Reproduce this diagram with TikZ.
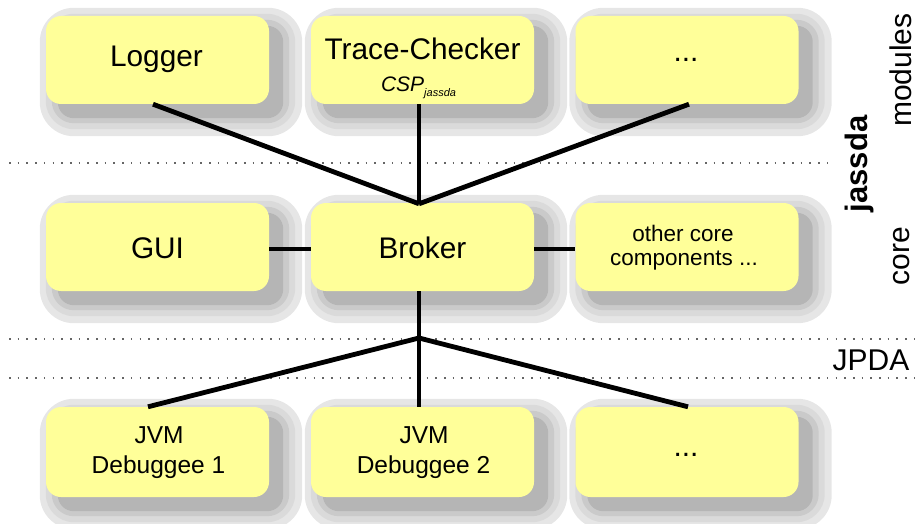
\documentclass[tikz,border=0pt]{standalone}
\usepackage{fontspec}
\setmainfont{Liberation Sans}
\usetikzlibrary{backgrounds,calc}

\definecolor{boxyellow}{HTML}{FFFF99}
\definecolor{shA}{HTML}{E6E6E6}
\definecolor{shB}{HTML}{DADADA}
\definecolor{shC}{HTML}{CACACA}
\definecolor{shD}{HTML}{B5B5B5}
\definecolor{sepgray}{HTML}{666666}

\tikzset{
  box/.style={fill=boxyellow, rounded corners=15pt, minimum width=223pt, minimum height=88pt, inner sep=0pt},
  big/.style={font=\fontsize{29.8}{34}\selectfont, anchor=base, inner sep=0pt},
  mid/.style={font=\fontsize{24.5}{28}\selectfont, anchor=base, inner sep=0pt},
  small/.style={font=\fontsize{22.5}{26}\selectfont, anchor=base, inner sep=0pt},
  side/.style={font=\fontsize{30}{36}\selectfont, anchor=base, inner sep=0pt},
  conn/.style={line width=4.8pt},
  sepline/.style={draw=sepgray, line width=1.6pt, dash pattern=on 1.6pt off 7.1pt},
}

\newcommand\dropshadow[1]{%
  \fill[shA, rounded corners=34pt] ($(#1.north west)+(-6,-8)$) rectangle ($(#1.south east)+(33,32)$);
  \fill[shB, rounded corners=28pt] ($(#1.north west)+(0,-2)$) rectangle ($(#1.south east)+(26,25)$);
  \fill[shC, rounded corners=22pt] ($(#1.north west)+(6,4)$) rectangle ($(#1.south east)+(20,19)$);
  \fill[shD, rounded corners=16pt] ($(#1.north west)+(12,10)$) rectangle ($(#1.south east)+(14,14)$);
}

\begin{document}
\begin{tikzpicture}[x=1pt,y=-1pt]
\useasboundingbox (0,0) rectangle (916,524);

% boxes
\node[box] (logger) at (157.5,60) {};
\node[box] (tc)     at (422.5,60) {};
\node[box] (modx)   at (687,60)   {};
\node[box] (gui)    at (157.5,247) {};
\node[box] (broker) at (422.5,247) {};
\node[box] (other)  at (687,247)  {};
\node[box, minimum height=90pt] (deb1) at (157.5,452) {};
\node[box, minimum height=90pt] (deb2) at (422.5,452) {};
\node[box, minimum height=90pt] (vmx)  at (687,452)  {};

% shadows
\begin{scope}[on background layer]
  \foreach \n in {logger,tc,modx,gui,broker,other,deb1,deb2,vmx}{\dropshadow{\n}}
\end{scope}

% separators
\draw[sepline] (9,163) -- (830,163);
\draw[sepline] (9,339) -- (916,339);
\draw[sepline] (9,378) -- (916,378);

% texts
\node[big] (tlogger) at (156.5,67) {Logger};
\node[big] (ttc) at (422.5,60) {Trace-Checker};
\node[anchor=base, inner sep=0pt, font=\fontsize{21}{25}\selectfont\itshape] (tcsp) at (418.5,92)
  {CSP\raisebox{-4.5pt}{\fontsize{11}{13}\selectfont jassda}};
\node[big] (tmodx) at (686,62) {...};
\node[big] (tgui) at (157.5,258) {GUI};
\node[big] (tbroker) at (422.5,258) {Broker};
\node[small] (tother1) at (683,241) {other core};
\node[small] (tother2) at (684,265) {components ...};
\node[mid] (tjvm1) at (159,443) {JVM};
\node[mid] (tdeb1) at (158.5,473) {Debuggee 1};
\node[mid] (tjvm2) at (424,443) {JVM};
\node[mid] (tdeb2) at (423.5,473) {Debuggee 2};
\node[big] (tvmx) at (686,456) {...};

% side labels
\node[side, rotate=90] (lmod) at (911,70) {modules};
\node[side, rotate=90, font=\fontsize{31}{36}\selectfont\bfseries] (ljassda) at (867,164) {jassda};
\node[side, rotate=90] (lcore) at (909,256) {core};
\node[side] (ljpda) at (871,370) {JPDA};

% connectors
\coordinate (j1) at ([xshift=-3.5pt,yshift=-1pt]broker.north);
\coordinate (j2) at (419,338);
\draw[conn] ([xshift=-4.5pt]logger.south) -- (j1);
\draw[conn] ([xshift=-3.5pt]tc.south) -- (j1);
\draw[conn] ([xshift=2pt]modx.south) -- (j1);
\draw[conn] ([yshift=-2pt]gui.east) -- ([yshift=-2pt]broker.west);
\draw[conn] ([yshift=-2pt]broker.east) -- ([yshift=-2pt]other.west);
\draw[conn] ([xshift=-3.5pt]broker.south) -- ([xshift=-3.5pt]deb2.north);
\draw[conn] ([xshift=-9.5pt]deb1.north) -- (j2);
\draw[conn] ([xshift=1pt]vmx.north) -- (j2);
\end{tikzpicture}
\end{document}
